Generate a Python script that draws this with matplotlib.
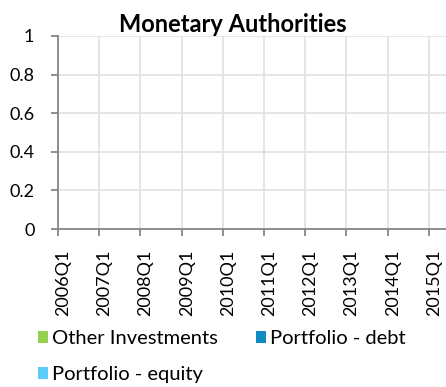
import matplotlib
matplotlib.use("Agg")
from matplotlib import pyplot as plt
from matplotlib.patches import Patch
import numpy as np

plt.rcParams['font.family'] = ['Lato', 'DejaVu Sans']

# quarterly categories, 2006Q1 .. 2015Q4
years = list(range(2006, 2016))
quarters = [f"{y}Q{q}" for y in years for q in range(1, 5)]

# no positions shown for monetary authorities -> all zero
other_investments = [0, 0, 0, 0, 0, 0, 0, 0, 0, 0, 0, 0, 0, 0, 0, 0, 0, 0, 0, 0,
                     0, 0, 0, 0, 0, 0, 0, 0, 0, 0, 0, 0, 0, 0, 0, 0, 0, 0, 0, 0]
portfolio_debt = [0, 0, 0, 0, 0, 0, 0, 0, 0, 0, 0, 0, 0, 0, 0, 0, 0, 0, 0, 0,
                  0, 0, 0, 0, 0, 0, 0, 0, 0, 0, 0, 0, 0, 0, 0, 0, 0, 0, 0, 0]
portfolio_equity = [0, 0, 0, 0, 0, 0, 0, 0, 0, 0, 0, 0, 0, 0, 0, 0, 0, 0, 0, 0,
                    0, 0, 0, 0, 0, 0, 0, 0, 0, 0, 0, 0, 0, 0, 0, 0, 0, 0, 0, 0]

series_names = ["Other Investments", "Portfolio - debt", "Portfolio - equity"]
colors = ["#92D050", "#0E8CC1", "#5BCBFA"]

W, H = 446, 387
fig = plt.figure(figsize=(W / 100, H / 100), dpi=100)
ax = fig.add_axes([58 / W, 1 - 229 / H, 412 / W, 193 / H])

x = np.arange(len(quarters))
bottom = np.zeros(len(quarters))
for vals, c in zip([other_investments, portfolio_debt, portfolio_equity], colors):
    ax.bar(x, vals, width=0.6, bottom=bottom, color=c)
    bottom += np.array(vals)

axis_col = "#868686"
grid_col = "#E3E3E3"
fs = 13

ax.set_xlim(-0.5, len(quarters) - 0.5)
ax.set_ylim(0, 1)
ax.set_yticks(np.arange(0, 1.01, 0.2))
ax.set_yticklabels(["0", "0.2", "0.4", "0.6", "0.8", "1"])

# boundaries every 4 quarters carry tick marks and gridlines
ax.set_xticks(np.arange(-0.5, len(quarters), 4))
ax.set_xticklabels([])
ax.set_xticks(np.arange(0, len(quarters), 4), minor=True)
ax.set_xticklabels(quarters[::4], minor=True, rotation=90, va="top", ha="center")
ax.tick_params(axis="x", which="minor", length=0, pad=15, labelsize=fs)
ax.tick_params(axis="x", which="major", length=5, width=1.3, color=axis_col)
ax.tick_params(axis="y", length=5, width=1.3, color=axis_col, pad=12, labelsize=fs)

ax.grid(True, which="major", color=grid_col, linewidth=1.3)
ax.set_axisbelow(True)
for side in ["top", "right"]:
    ax.spines[side].set_visible(False)
for side in ["left", "bottom"]:
    ax.spines[side].set_color(axis_col)
    ax.spines[side].set_linewidth(1.3)

fig.text(233 / W, 1 - 25 / H, "Monetary Authorities", ha="center", va="center",
         fontsize=17, fontweight="bold")

# legend fills column-wise: reorder so rows read Other/debt then equity
order = [0, 2, 1]
handles = [Patch(facecolor=colors[i], edgecolor="none") for i in order]
labels = [series_names[i] for i in order]
fig.legend(handles, labels, ncol=2, loc="upper left",
           bbox_to_anchor=(38 / W, 1 - 330 / H), frameon=False, fontsize=14.5,
           handlelength=0.5, handleheight=0.5, handletextpad=0.2,
           columnspacing=1.9, labelspacing=0.95, borderpad=0, borderaxespad=0)

fig.savefig("out.png", dpi=100)
